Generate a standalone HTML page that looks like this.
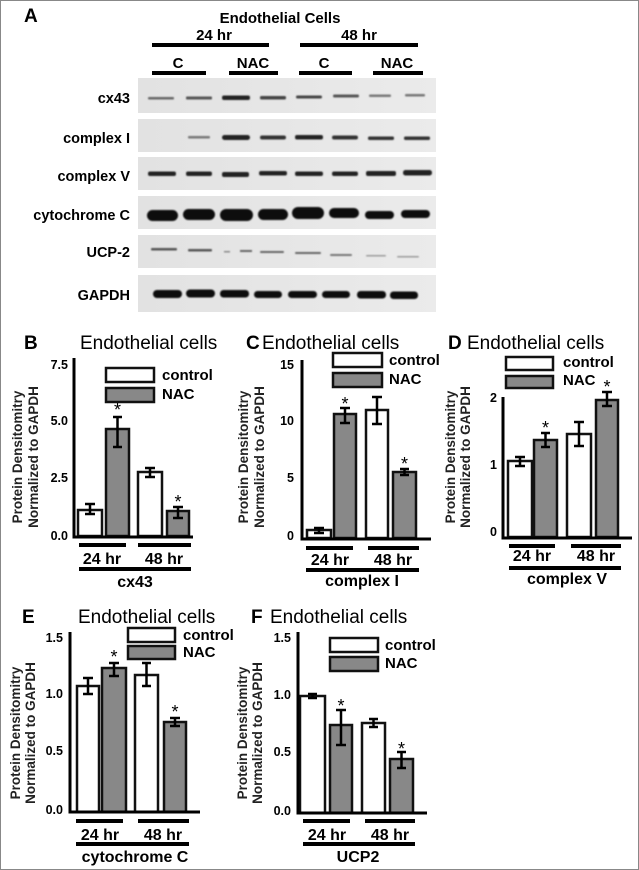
<!DOCTYPE html>
<html><head><meta charset="utf-8"><style>
html,body{margin:0;padding:0;background:#fff;}
svg{display:block;}
text{font-family:"Liberation Sans",Arial,sans-serif;}
.b{font-weight:bold;}
</style></head><body>
<svg width="639" height="870" viewBox="0 0 639 870" xmlns="http://www.w3.org/2000/svg">
<defs>
<filter id="bl" x="-20%" y="-100%" width="140%" height="300%"><feGaussianBlur stdDeviation="0.8"/></filter>
<linearGradient id="bg" x1="0" x2="1"><stop offset="0" stop-color="#e2e2e2"/><stop offset="1" stop-color="#ebebeb"/></linearGradient>
</defs>
<rect x="0.5" y="0.5" width="638" height="869" fill="#fff" stroke="#888" stroke-width="1"/>

<text x="24" y="22" class="b" font-size="19">A</text>
<text x="280" y="23" class="b" font-size="15" text-anchor="middle">Endothelial Cells</text>
<text x="214" y="40" class="b" font-size="15" text-anchor="middle">24 hr</text>
<text x="359" y="40" class="b" font-size="15" text-anchor="middle">48 hr</text>
<g fill="#000">
<rect x="152" y="43" width="117" height="4"/>
<rect x="300" y="43" width="118" height="4"/>
<rect x="152" y="71" width="54" height="4"/>
<rect x="229" y="71" width="49" height="4"/>
<rect x="299" y="71" width="53" height="4"/>
<rect x="373" y="71" width="50" height="4"/>
</g>
<text x="178" y="68" class="b" font-size="15" text-anchor="middle">C</text>
<text x="253" y="68" class="b" font-size="15" text-anchor="middle">NAC</text>
<text x="324" y="68" class="b" font-size="15" text-anchor="middle">C</text>
<text x="397" y="68" class="b" font-size="15" text-anchor="middle">NAC</text>

<g class="b" font-size="14.5" text-anchor="end">
<text x="130" y="103">cx43</text>
<text x="130" y="143">complex I</text>
<text x="130" y="181">complex V</text>
<text x="130" y="220">cytochrome C</text>
<text x="130" y="257">UCP-2</text>
<text x="130" y="300">GAPDH</text>
</g>
<g fill="url(#bg)">
<rect x="138" y="78" width="298" height="35"/>
<rect x="138" y="119" width="298" height="33"/>
<rect x="138" y="157" width="298" height="33"/>
<rect x="138" y="196" width="298" height="33"/>
<rect x="138" y="235" width="298" height="33"/>
<rect x="138" y="275" width="298" height="37"/>
</g>
<g filter="url(#bl)">
<rect x="148" y="97" width="26" height="2.5" rx="1" fill="#666"/>
<rect x="186" y="96.5" width="26" height="3" rx="1" fill="#555"/>
<rect x="222" y="95.5" width="28" height="4.5" rx="2" fill="#222"/>
<rect x="260" y="96" width="26" height="3.5" rx="1.5" fill="#444"/>
<rect x="296" y="95.5" width="26" height="3" rx="1.5" fill="#444"/>
<rect x="333" y="94.5" width="26" height="3" rx="1.5" fill="#555"/>
<rect x="369" y="94.5" width="22" height="2.5" rx="1" fill="#777"/>
<rect x="405" y="94" width="20" height="2.5" rx="1" fill="#777"/>
<rect x="188" y="136" width="22" height="2.5" rx="1" fill="#777"/>
<rect x="222" y="135" width="28" height="5" rx="2.5" fill="#222"/>
<rect x="260" y="135.5" width="26" height="4" rx="2" fill="#333"/>
<rect x="295" y="135" width="28" height="4.5" rx="2" fill="#222"/>
<rect x="332" y="135.5" width="26" height="4" rx="2" fill="#333"/>
<rect x="368" y="136.5" width="26" height="3.5" rx="1.5" fill="#333"/>
<rect x="404" y="136.5" width="26" height="3.5" rx="1.5" fill="#333"/>
<g fill="#222">
<rect x="148" y="171.5" width="28" height="4.5" rx="2"/>
<rect x="186" y="171.5" width="26" height="4.5" rx="2"/>
<rect x="222" y="172" width="27" height="5" rx="2"/>
<rect x="259" y="171" width="28" height="4.5" rx="2"/>
<rect x="295" y="171.5" width="28" height="4.5" rx="2"/>
<rect x="332" y="171.5" width="26" height="4.5" rx="2"/>
<rect x="366" y="171" width="30" height="5" rx="2"/>
<rect x="403" y="170" width="29" height="5.5" rx="2.5"/>
</g>
<g fill="#111">
<rect x="147" y="210" width="31" height="11" rx="5.5"/>
<rect x="183" y="209" width="32" height="11" rx="5.5"/>
<rect x="220" y="209" width="33" height="12" rx="6"/>
<rect x="258" y="209" width="30" height="11" rx="5.5"/>
<rect x="292" y="207" width="32" height="12" rx="6"/>
<rect x="329" y="208" width="30" height="10" rx="5"/>
<rect x="365" y="211" width="29" height="8" rx="4"/>
<rect x="401" y="210" width="29" height="8" rx="4"/>
</g>
<rect x="151" y="248" width="26" height="2.5" rx="1" fill="#555"/>
<rect x="188" y="249" width="24" height="2.5" rx="1" fill="#555"/>
<rect x="224" y="251" width="6" height="1.5" fill="#888"/>
<rect x="240" y="250" width="12" height="2" fill="#666"/>
<rect x="260" y="251" width="24" height="2" rx="1" fill="#666"/>
<rect x="295" y="252" width="26" height="2" rx="1" fill="#666"/>
<rect x="330" y="254" width="22" height="2" rx="1" fill="#777"/>
<rect x="366" y="255" width="20" height="1.5" rx="1" fill="#999"/>
<rect x="397" y="256" width="22" height="1.5" rx="1" fill="#999"/>
<g fill="#111">
<rect x="153" y="290" width="29" height="8" rx="4"/>
<rect x="186" y="289.5" width="29" height="8" rx="4"/>
<rect x="220" y="290" width="29" height="7.5" rx="3.5"/>
<rect x="254" y="291" width="28" height="7" rx="3.5"/>
<rect x="288" y="291" width="29" height="7" rx="3.5"/>
<rect x="322" y="291" width="28" height="7" rx="3.5"/>
<rect x="357" y="291" width="29" height="7.5" rx="3.5"/>
<rect x="390" y="291.5" width="28" height="7.5" rx="3.5"/>
</g>
</g>

<g stroke="#111" stroke-width="2.5">
<rect x="78" y="510" width="24" height="26" fill="#fff"/>
<rect x="106" y="429" width="23" height="107" fill="#888"/>
<rect x="138" y="472" width="24" height="64" fill="#fff"/>
<rect x="167" y="511" width="22" height="25" fill="#888"/>
<rect x="307" y="530" width="24" height="8" fill="#fff"/>
<rect x="334" y="414" width="22" height="124" fill="#888"/>
<rect x="366" y="410" width="22" height="128" fill="#fff"/>
<rect x="393" y="472" width="23" height="66" fill="#888"/>
<rect x="508" y="461" width="24" height="76" fill="#fff"/>
<rect x="534" y="440" width="23" height="97" fill="#888"/>
<rect x="567" y="434" width="24" height="103" fill="#fff"/>
<rect x="596" y="400" width="22" height="137" fill="#888"/>
<rect x="77" y="686" width="22" height="126" fill="#fff"/>
<rect x="102" y="668" width="24" height="144" fill="#888"/>
<rect x="135" y="675" width="23" height="137" fill="#fff"/>
<rect x="164" y="722" width="22" height="90" fill="#888"/>
<rect x="300" y="696" width="25" height="117" fill="#fff"/>
<rect x="330" y="725" width="22" height="88" fill="#888"/>
<rect x="362" y="723" width="23" height="90" fill="#fff"/>
<rect x="390" y="759" width="23" height="54" fill="#888"/>
<rect x="106" y="368" width="48" height="14" fill="#fff"/>
<rect x="106" y="388" width="48" height="14" fill="#888"/>
<rect x="333" y="353" width="49" height="14" fill="#fff"/>
<rect x="333" y="373" width="49" height="14" fill="#888"/>
<rect x="506" y="357" width="47" height="13" fill="#fff"/>
<rect x="506" y="376" width="47" height="12" fill="#888"/>
<rect x="128" y="628" width="47" height="14" fill="#fff"/>
<rect x="128" y="646" width="47" height="13" fill="#888"/>
<rect x="330" y="638" width="48" height="14" fill="#fff"/>
<rect x="330" y="657" width="48" height="14" fill="#888"/>
</g>

<g stroke="#000" stroke-width="2.5" fill="none">
<path d="M90 504V514M85 504h10M85 514h10"/>
<path d="M117.5 417V447M113 417h9M113 447h9"/>
<path d="M150 468V477M145 468h10M145 477h10"/>
<path d="M178 507V518M173 507h10M173 518h10"/>
<path d="M319 528V533M314 528h10M314 533h10"/>
<path d="M345 408V423M340 408h10M340 423h10"/>
<path d="M377 397V424M372 397h10M372 424h10"/>
<path d="M404.5 469V475M400 469h9M400 475h9"/>
<path d="M520 457V466M515 457h10M515 466h10"/>
<path d="M545.5 433V447M541 433h9M541 447h9"/>
<path d="M579 422V446M574 422h10M574 446h10"/>
<path d="M607 392V406M602 392h10M602 406h10"/>
<path d="M88 678V694M83 678h10M83 694h10"/>
<path d="M114 663V676M109 663h10M109 676h10"/>
<path d="M146.5 663V686M142 663h9M142 686h9"/>
<path d="M175 718V726M170 718h10M170 726h10"/>
<path d="M312.5 694V698M308 694h9M308 698h9"/>
<path d="M341 710V745M336 710h10M336 745h10"/>
<path d="M373.5 719V727M369 719h9M369 727h9"/>
<path d="M401.5 752V768M397 752h9M397 768h9"/>
</g>

<g stroke="#000" stroke-width="3" fill="none">
<path d="M74 358V537H193"/>
<path d="M302 360V539H431"/>
<path d="M503 397V538H632"/>
<path d="M70 632V812H200"/>
<path d="M298 632V813H427"/>
</g>

<g fill="#000">
<rect x="79" y="543" width="47" height="4"/><rect x="138" y="543" width="53" height="4"/><rect x="79" y="567" width="112" height="4"/>
<rect x="306" y="546" width="47" height="4"/><rect x="368" y="546" width="51" height="4"/><rect x="306" y="568" width="113" height="4"/>
<rect x="509" y="544" width="46" height="4"/><rect x="571" y="544" width="50" height="4"/><rect x="509" y="566" width="112" height="4"/>
<rect x="76" y="819" width="47" height="4"/><rect x="138" y="819" width="51" height="4"/><rect x="76" y="842" width="113" height="4"/>
<rect x="303" y="819" width="47" height="4"/><rect x="365" y="819" width="50" height="4"/><rect x="303" y="842" width="112" height="4"/>
</g>

<g font-size="19">
<text x="24" y="349" class="b">B</text>
<text x="80" y="349">Endothelial cells</text>
<text x="246" y="349" class="b">C</text>
<text x="262" y="349">Endothelial cells</text>
<text x="448" y="349" class="b">D</text>
<text x="467" y="349">Endothelial cells</text>
<text x="22" y="623" class="b">E</text>
<text x="78" y="623">Endothelial cells</text>
<text x="251" y="623" class="b">F</text>
<text x="270" y="623">Endothelial cells</text>
</g>

<g font-size="15" class="b">
<text x="162" y="380">control</text><text x="162" y="399">NAC</text>
<text x="389" y="365">control</text><text x="389" y="384">NAC</text>
<text x="563" y="367">control</text><text x="563" y="385">NAC</text>
<text x="183" y="640">control</text><text x="183" y="657">NAC</text>
<text x="385" y="650">control</text><text x="385" y="668">NAC</text>
</g>

<g font-size="18" text-anchor="middle">
<text x="117.5" y="416">*</text><text x="178" y="508">*</text>
<text x="345" y="410">*</text><text x="404.5" y="470">*</text>
<text x="545.5" y="434">*</text><text x="607" y="393">*</text>
<text x="114" y="663">*</text><text x="175" y="718">*</text>
<text x="341" y="712">*</text><text x="401.5" y="755">*</text>
</g>

<g class="b" font-size="12.5" text-anchor="end">
<text x="68" y="369">7.5</text><text x="68" y="425">5.0</text><text x="68" y="482">2.5</text><text x="68" y="540">0.0</text>
<text x="294" y="369">15</text><text x="294" y="425">10</text><text x="294" y="482">5</text><text x="294" y="540">0</text>
<text x="497" y="402">2</text><text x="497" y="469">1</text><text x="497" y="536">0</text>
<text x="63" y="642">1.5</text><text x="63" y="698">1.0</text><text x="63" y="755">0.5</text><text x="63" y="814">0.0</text>
<text x="291" y="642">1.5</text><text x="291" y="699">1.0</text><text x="291" y="756">0.5</text><text x="291" y="815">0.0</text>
</g>

<g font-size="16" text-anchor="middle" class="b">
<text x="102" y="564">24 hr</text><text x="164" y="564">48 hr</text><text x="135" y="587">cx43</text>
<text x="330" y="565">24 hr</text><text x="393" y="565">48 hr</text><text x="362" y="586">complex I</text>
<text x="532" y="561">24 hr</text><text x="596" y="561">48 hr</text><text x="567" y="584">complex V</text>
<text x="100" y="840">24 hr</text><text x="163" y="840">48 hr</text><text x="135" y="862">cytochrome C</text>
<text x="327" y="840">24 hr</text><text x="390" y="840">48 hr</text><text x="358" y="862">UCP2</text>
</g>

<g class="b" font-size="13.5" text-anchor="middle" fill="#222">
<text transform="translate(22,457) rotate(-90)">Protein Densitomitry</text>
<text transform="translate(38,457) rotate(-90)">Normalized to GAPDH</text>
<text transform="translate(248,457) rotate(-90)">Protein Densitomitry</text>
<text transform="translate(264,457) rotate(-90)">Normalized to GAPDH</text>
<text transform="translate(455,457) rotate(-90)">Protein Densitomitry</text>
<text transform="translate(470,457) rotate(-90)">Normalized to GAPDH</text>
<text transform="translate(20,733) rotate(-90)">Protein Densitomitry</text>
<text transform="translate(35,733) rotate(-90)">Normalized to GAPDH</text>
<text transform="translate(247,733) rotate(-90)">Protein Densitomitry</text>
<text transform="translate(262,733) rotate(-90)">Normalized to GAPDH</text>
</g>
</svg>
</body></html>
